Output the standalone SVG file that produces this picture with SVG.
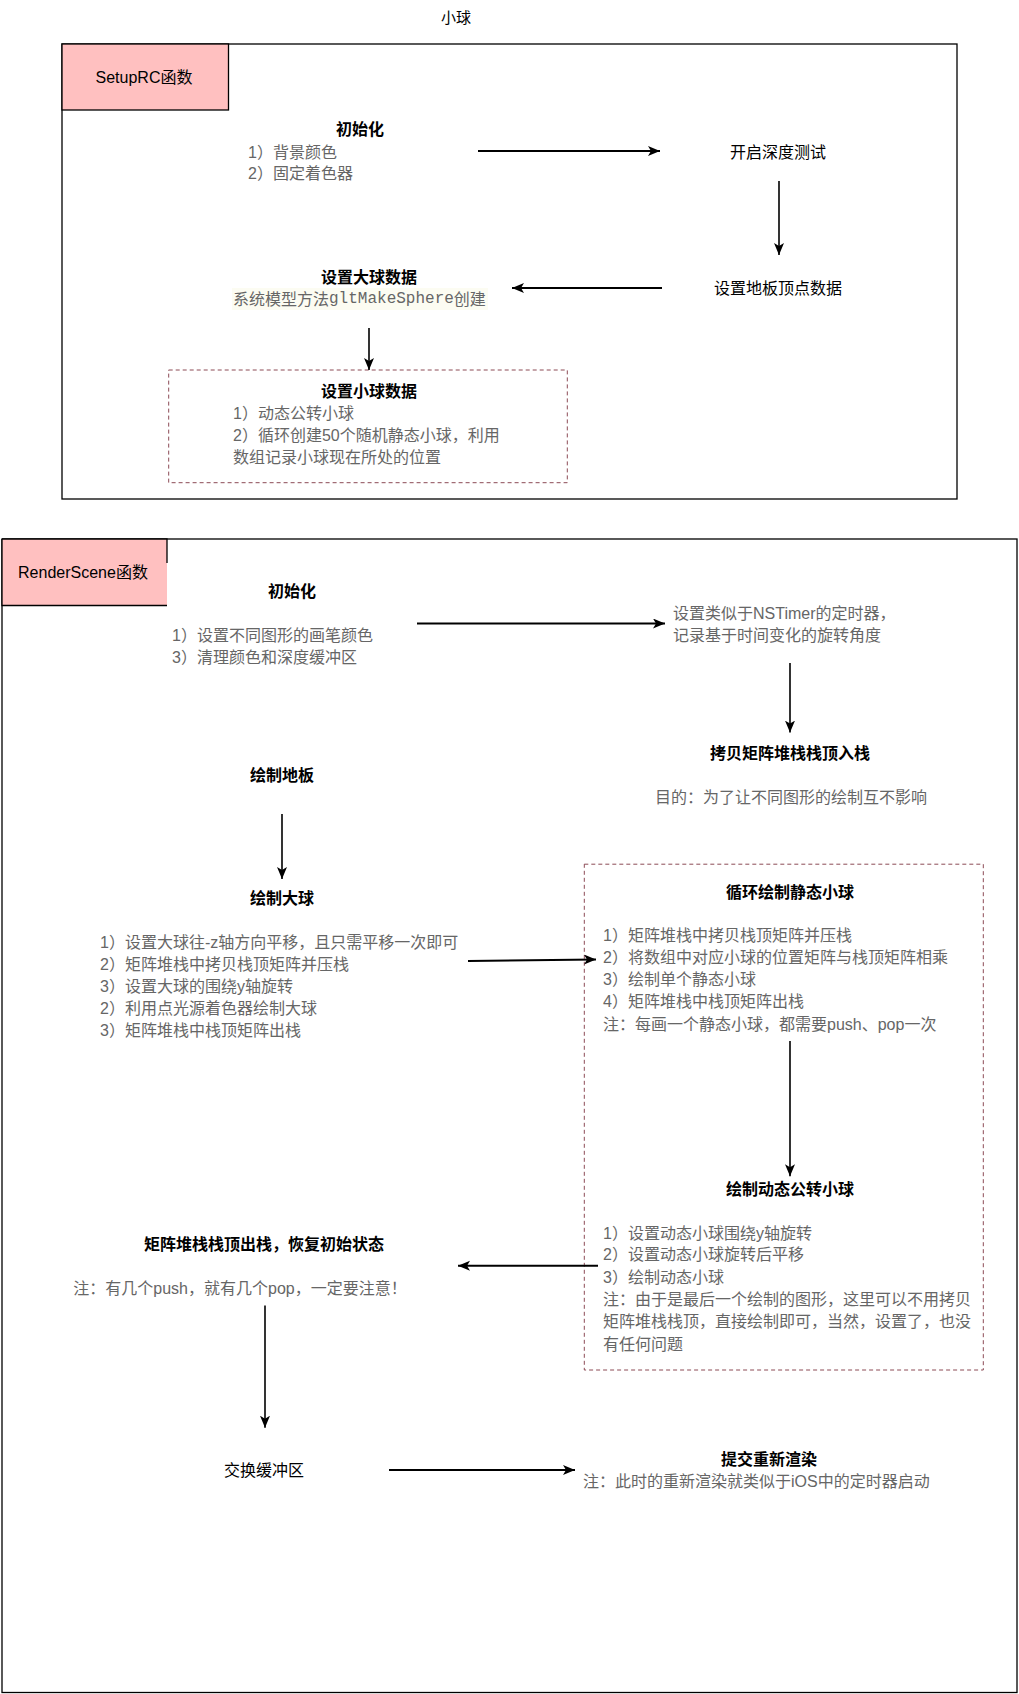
<svg xmlns="http://www.w3.org/2000/svg" width="1019" height="1694" viewBox="0 0 1019 1694">
<style>
text{font-family:"Liberation Sans","Noto Sans CJK SC",sans-serif;font-size:16px;dominant-baseline:central;fill:#000}
.c{text-anchor:middle}
.b{font-weight:bold}
.g{fill:#666}
.mono{font-family:"Liberation Mono","DejaVu Sans Mono",monospace}
.frame{fill:#fff;stroke:#000;stroke-width:1.3}
.lab{fill:#ffc0c0}
.labline{fill:none;stroke:#000;stroke-width:1.3}
.dash{fill:none;stroke:#8c4a55;stroke-width:1;stroke-dasharray:4 3}
.h{fill:none;stroke:#000;stroke-width:2;marker-end:url(#ah)}
.v{fill:none;stroke:#000;stroke-width:1.6;marker-end:url(#ah)}
</style>
<defs>
<marker id="ah" markerUnits="userSpaceOnUse" markerWidth="14" markerHeight="12" refX="12" refY="5" orient="auto">
<path d="M0,0 L12,5 L0,10 L3,5 Z" fill="#000"/>
</marker>
</defs>
<rect width="1019" height="1694" fill="#fff"/>
<g id="title"><text x="456" y="17" class="c" style="font-size:15px">小球</text></g>

<g id="setup-frame">
<rect class="frame" x="62" y="44" width="895" height="455"/>
</g>
<g id="setup-label">
<rect class="lab" x="62" y="44" width="166.5" height="66" stroke="#000" stroke-width="1.3"/>
<text x="144" y="77" class="c">SetupRC函数</text>
</g>
<g id="setup-init">
<text x="360" y="129" class="c b">初始化</text>
<text x="248" y="152" class="g">1）背景颜色</text>
<text x="248" y="173" class="g">2）固定着色器</text>
</g>
<g id="depth-test"><text x="778" y="152" class="c">开启深度测试</text></g>
<g id="floor-data"><text x="778" y="288" class="c">设置地板顶点数据</text></g>
<g id="big-sphere-data">
<text x="369" y="277" class="c b">设置大球数据</text>
<rect x="232" y="288" width="256" height="22" fill="#fcfcf2"/>
<text x="233" y="299" class="g">系统模型方法<tspan class="mono">gltMakeSphere</tspan>创建</text>
</g>
<g id="small-sphere-data">
<rect class="dash" x="168.7" y="370" width="398.6" height="112.7"/>
<text x="369" y="391" class="c b">设置小球数据</text>
<text x="233" y="413" class="g">1）动态公转小球</text>
<text x="233" y="435" class="g">2）循环创建50个随机静态小球，利用</text>
<text x="233" y="457" class="g">数组记录小球现在所处的位置</text>
</g>

<g id="render-frame">
<rect class="frame" x="2" y="539" width="1015" height="1153.5"/>
</g>
<g id="render-label">
<rect class="lab" x="2" y="539" width="165" height="66.5"/>
<path class="labline" d="M2,539 H167 V563 M167,605.5 H2 V539"/>
<text x="83" y="572" class="c">RenderScene函数</text>
</g>
<g id="render-init">
<text x="292" y="591" class="c b">初始化</text>
<text x="172" y="635" class="g">1）设置不同图形的画笔颜色</text>
<text x="172" y="657" class="g">3）清理颜色和深度缓冲区</text>
</g>
<g id="timer">
<text x="673" y="613" class="g">设置类似于NSTimer的定时器，</text>
<text x="673" y="635" class="g">记录基于时间变化的旋转角度</text>
</g>
<g id="push-copy">
<text x="790" y="753" class="c b">拷贝矩阵堆栈栈顶入栈</text>
<text x="791" y="797" class="c g">目的：为了让不同图形的绘制互不影响</text>
</g>
<g id="draw-floor"><text x="282" y="775" class="c b">绘制地板</text></g>
<g id="draw-big">
<text x="282" y="898" class="c b">绘制大球</text>
<text x="100" y="942" class="g">1）设置大球往-z轴方向平移，且只需平移一次即可</text>
<text x="100" y="964.5" class="g">2）矩阵堆栈中拷贝栈顶矩阵并压栈</text>
<text x="100" y="986.5" class="g">3）设置大球的围绕y轴旋转</text>
<text x="100" y="1008.5" class="g">2）利用点光源着色器绘制大球</text>
<text x="100" y="1030" class="g">3）矩阵堆栈中栈顶矩阵出栈</text>
</g>
<g id="sphere-group">
<rect class="dash" x="584.3" y="864.2" width="399" height="505.8"/>
</g>
<g id="static-loop">
<text x="790" y="892.5" class="c b">循环绘制静态小球</text>
<text x="603" y="935.7" class="g">1）矩阵堆栈中拷贝栈顶矩阵并压栈</text>
<text x="603" y="957.5" class="g">2）将数组中对应小球的位置矩阵与栈顶矩阵相乘</text>
<text x="603" y="979.7" class="g">3）绘制单个静态小球</text>
<text x="603" y="1001.6" class="g">4）矩阵堆栈中栈顶矩阵出栈</text>
<text x="603" y="1024" class="g">注：每画一个静态小球，都需要push、pop一次</text>
</g>
<g id="dynamic">
<text x="790" y="1189.3" class="c b">绘制动态公转小球</text>
<text x="603" y="1233" class="g">1）设置动态小球围绕y轴旋转</text>
<text x="603" y="1254.5" class="g">2）设置动态小球旋转后平移</text>
<text x="603" y="1277" class="g">3）绘制动态小球</text>
<text x="603" y="1299.2" class="g">注：由于是最后一个绘制的图形，这里可以不用拷贝</text>
<text x="603" y="1321.5" class="g">矩阵堆栈栈顶，直接绘制即可，当然，设置了，也没</text>
<text x="603" y="1344" class="g">有任何问题</text>
</g>
<g id="pop-restore">
<text x="264" y="1244" class="c b">矩阵堆栈栈顶出栈，恢复初始状态</text>
<text x="240" y="1288" class="c g">注：有几个push，就有几个pop，一定要注意！</text>
</g>
<g id="swap"><text x="264" y="1470.5" class="c">交换缓冲区</text></g>
<g id="submit">
<text x="769" y="1459" class="c b">提交重新渲染</text>
<text x="583" y="1481.3" class="g">注：此时的重新渲染就类似于iOS中的定时器启动</text>
</g>

<g id="connectors">
<path class="h" d="M478,151 H660"/>
<path class="v" d="M779,181 V255"/>
<path class="h" d="M662,288 H512"/>
<path class="v" d="M369,328 V370"/>
<path class="h" d="M417,623.5 H665"/>
<path class="v" d="M790,663 V732.6"/>
<path class="v" d="M282,814 V879"/>
<path class="h" d="M468,961 L596,959.4"/>
<path class="v" d="M790,1041 V1176.3"/>
<path class="h" d="M598,1265.7 H458"/>
<path class="v" d="M265,1305.5 V1427.7"/>
<path class="h" d="M389,1470 H575"/>
</g>
</svg>
